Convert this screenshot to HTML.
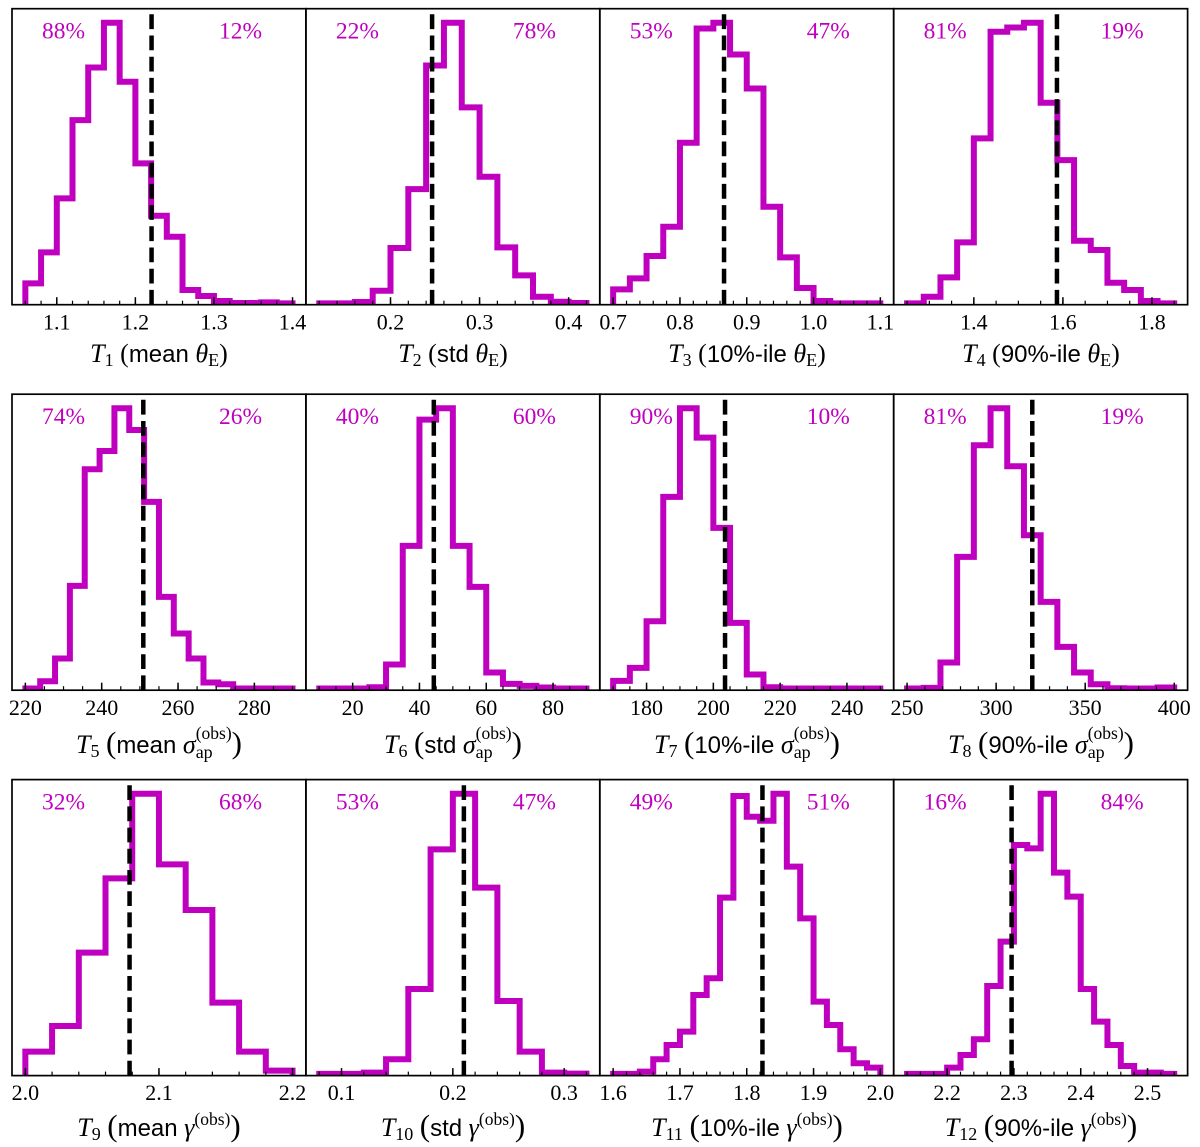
<!DOCTYPE html>
<html lang="en">
<head>
<meta charset="utf-8">
<title>Posterior predictive test statistics T1 to T12</title>
<style>
  html, body { margin: 0; padding: 0; background: #fff; }
  svg { display: block; }
  text { font-family: "Liberation Serif", serif; fill: #000; white-space: pre; }
  .tick-label { font-size: 22px; text-anchor: middle; }
  .pct { font-size: 23.5px; text-anchor: middle; fill: #bf00bf; }
  .xl { font-size: 26px; text-anchor: middle; }
  .m { font-style: italic; }
  .sub { font-size: 18px; }
  .sup { font-size: 17.5px; }
  .sf { font-family: "Liberation Sans", sans-serif; font-size: 24px; }
  .bp { font-size: 31px; }
</style>
</head>
<body>
<svg id="chart" xmlns="http://www.w3.org/2000/svg" width="1200" height="1147" viewBox="0 0 1200 1147">
  <rect x="0" y="0" width="1200" height="1147" fill="#fff"/>
  <g id="panels"></g>
  <g>
    <text class="xl" x="159" y="362"><tspan class="m">T</tspan><tspan class="sub" dy="4">1</tspan><tspan dy="-4"> (</tspan><tspan class="sf">mean</tspan><tspan> </tspan><tspan class="m">θ</tspan><tspan class="sub" dy="4">E</tspan><tspan dy="-4">)</tspan></text>
    <text class="xl" x="453" y="362"><tspan class="m">T</tspan><tspan class="sub" dy="4">2</tspan><tspan dy="-4"> (</tspan><tspan class="sf">std</tspan><tspan> </tspan><tspan class="m">θ</tspan><tspan class="sub" dy="4">E</tspan><tspan dy="-4">)</tspan></text>
    <text class="xl" x="747" y="362"><tspan class="m">T</tspan><tspan class="sub" dy="4">3</tspan><tspan dy="-4"> (</tspan><tspan class="sf">10%-ile</tspan><tspan> </tspan><tspan class="m">θ</tspan><tspan class="sub" dy="4">E</tspan><tspan dy="-4">)</tspan></text>
    <text class="xl" x="1041" y="362"><tspan class="m">T</tspan><tspan class="sub" dy="4">4</tspan><tspan dy="-4"> (</tspan><tspan class="sf">90%-ile</tspan><tspan> </tspan><tspan class="m">θ</tspan><tspan class="sub" dy="4">E</tspan><tspan dy="-4">)</tspan></text>

    <text class="xl" x="159" y="753"><tspan class="m">T</tspan><tspan class="sub" dy="4">5</tspan><tspan dy="-4"> </tspan><tspan class="bp">(</tspan><tspan class="sf">mean</tspan><tspan> </tspan><tspan class="m">σ</tspan><tspan class="sub" dy="5">ap</tspan><tspan class="sup" dx="-17" dy="-19">(obs)</tspan><tspan class="bp" dy="14">)</tspan></text>
    <text class="xl" x="453" y="753"><tspan class="m">T</tspan><tspan class="sub" dy="4">6</tspan><tspan dy="-4"> </tspan><tspan class="bp">(</tspan><tspan class="sf">std</tspan><tspan> </tspan><tspan class="m">σ</tspan><tspan class="sub" dy="5">ap</tspan><tspan class="sup" dx="-17" dy="-19">(obs)</tspan><tspan class="bp" dy="14">)</tspan></text>
    <text class="xl" x="747" y="753"><tspan class="m">T</tspan><tspan class="sub" dy="4">7</tspan><tspan dy="-4"> </tspan><tspan class="bp">(</tspan><tspan class="sf">10%-ile</tspan><tspan> </tspan><tspan class="m">σ</tspan><tspan class="sub" dy="5">ap</tspan><tspan class="sup" dx="-17" dy="-19">(obs)</tspan><tspan class="bp" dy="14">)</tspan></text>
    <text class="xl" x="1041" y="753"><tspan class="m">T</tspan><tspan class="sub" dy="4">8</tspan><tspan dy="-4"> </tspan><tspan class="bp">(</tspan><tspan class="sf">90%-ile</tspan><tspan> </tspan><tspan class="m">σ</tspan><tspan class="sub" dy="5">ap</tspan><tspan class="sup" dx="-17" dy="-19">(obs)</tspan><tspan class="bp" dy="14">)</tspan></text>

    <text class="xl" x="159" y="1136"><tspan class="m">T</tspan><tspan class="sub" dy="4">9</tspan><tspan dy="-4"> </tspan><tspan class="bp">(</tspan><tspan class="sf">mean</tspan><tspan> </tspan><tspan class="m">γ</tspan><tspan class="sup" dy="-11">(obs)</tspan><tspan class="bp" dy="11">)</tspan></text>
    <text class="xl" x="453" y="1136"><tspan class="m">T</tspan><tspan class="sub" dy="4">10</tspan><tspan dy="-4"> </tspan><tspan class="bp">(</tspan><tspan class="sf">std</tspan><tspan> </tspan><tspan class="m">γ</tspan><tspan class="sup" dy="-11">(obs)</tspan><tspan class="bp" dy="11">)</tspan></text>
    <text class="xl" x="747" y="1136"><tspan class="m">T</tspan><tspan class="sub" dy="4">11</tspan><tspan dy="-4"> </tspan><tspan class="bp">(</tspan><tspan class="sf">10%-ile</tspan><tspan> </tspan><tspan class="m">γ</tspan><tspan class="sup" dy="-11">(obs)</tspan><tspan class="bp" dy="11">)</tspan></text>
    <text class="xl" x="1041" y="1136"><tspan class="m">T</tspan><tspan class="sub" dy="4">12</tspan><tspan dy="-4"> </tspan><tspan class="bp">(</tspan><tspan class="sf">90%-ile</tspan><tspan> </tspan><tspan class="m">γ</tspan><tspan class="sup" dy="-11">(obs)</tspan><tspan class="bp" dy="11">)</tspan></text>
  </g>
</svg>
<script>
// ---- chart data ----
const histStart = [1.06, 0.12, 0.7, 1.25, 220, 10, 170, 250, 2.0, 0.08, 1.6, 2.14];
const histStop = [1.4, 0.42, 1.1, 1.85, 290, 90, 250, 400, 2.2, 0.32, 2.0, 2.54];
const countsT1 = [64, 157, 319, 554, 712, 846, 669, 424, 267, 204, 44, 26, 11, 5, 5, 7, 4];
const countsT2 = [4, 4, 8, 42, 170, 347, 718, 846, 592, 384, 172, 88, 24, 9, 5];
const countsT3 = [46, 79, 146, 234, 486, 829, 846, 751, 649, 294, 142, 50, 11, 4, 4, 4];
const countsT4 = [4, 24, 82, 187, 499, 819, 832, 846, 606, 434, 192, 164, 66, 44, 11, 4];
const countsT5 = [5, 27, 95, 313, 663, 718, 846, 781, 565, 280, 170, 95, 23, 18, 5, 5, 5, 5];
const countsT6 = [5, 5, 5, 9, 77, 433, 812, 846, 433, 310, 53, 19, 13, 8, 5, 5];
const countsT7 = [28, 67, 207, 580, 846, 758, 487, 202, 47, 9, 5, 5, 5, 5, 5, 5];
const countsT8 = [5, 7, 83, 400, 735, 846, 672, 465, 265, 130, 53, 18, 6, 5, 5, 8];
const countsT9 = [72, 149, 369, 592, 846, 634, 497, 219, 72, 15];
const countsT10 = [5, 5, 9, 49, 260, 679, 846, 564, 224, 72, 9, 6];
const countsT11 = [5, 5, 12, 49, 92, 132, 242, 292, 534, 839, 777, 765, 846, 627, 472, 222, 152, 79, 37, 24];
const countsT12 = [5, 5, 5, 24, 62, 109, 269, 402, 692, 682, 846, 609, 537, 260, 162, 92, 29, 9, 9, 5];
const observedValue = [1.2206, 0.2467, 0.866, 1.5866, 250.9, 44.3, 203.5, 320.3, 2.078, 0.2099, 1.8235, 2.2965];
const percentBelow = ["88%", "22%", "53%", "81%", "74%", "40%", "90%", "81%", "32%", "53%", "49%", "16%"];
const percentAbove = ["12%", "78%", "47%", "19%", "26%", "60%", "10%", "19%", "68%", "47%", "51%", "84%"];
const majorTicksT1 = ["1.1", "1.2", "1.3", "1.4"];
const majorTicksT2 = ["0.2", "0.3", "0.4"];
const majorTicksT3 = ["0.7", "0.8", "0.9", "1.0", "1.1"];
const majorTicksT4 = ["1.4", "1.6", "1.8"];
const majorTicksT5 = ["220", "240", "260", "280"];
const majorTicksT6 = ["20", "40", "60", "80"];
const majorTicksT7 = ["180", "200", "220", "240"];
const majorTicksT8 = ["250", "300", "350", "400"];
const majorTicksT9 = ["2.0", "2.1", "2.2"];
const majorTicksT10 = ["0.1", "0.2", "0.3"];
const majorTicksT11 = ["1.6", "1.7", "1.8", "1.9", "2.0"];
const majorTicksT12 = ["2.2", "2.3", "2.4", "2.5"];
const minorStep = [0.02, 0.02, 0.02, 0.05, 5, 5, 5, 10, 0.02, 0.02, 0.02, 0.02];

const allCounts = [countsT1, countsT2, countsT3, countsT4, countsT5, countsT6, countsT7, countsT8, countsT9, countsT10, countsT11, countsT12];
const allTicks = [majorTicksT1, majorTicksT2, majorTicksT3, majorTicksT4, majorTicksT5, majorTicksT6, majorTicksT7, majorTicksT8, majorTicksT9, majorTicksT10, majorTicksT11, majorTicksT12];

// ---- layout ----
const NS = "http://www.w3.org/2000/svg";
const panelWidth = 293.9;
const panelHeight = 296;
const colLefts = [12, 305.9, 599.8, 893.7];
const rowTops = [8.7, 394.2, 779.6];
const tickLabelOffset = 24.6;
const magenta = "#bf00bf";
const root = document.getElementById("panels");

function make(parent, tag, attrs) {
  const el = document.createElementNS(NS, tag);
  for (const k in attrs) el.setAttribute(k, attrs[k]);
  parent.appendChild(el);
  return el;
}

allCounts.forEach(function (counts, i) {
  const id = "t" + (i + 1);
  const left = colLefts[i % 4];
  const top = rowTops[Math.floor(i / 4)];
  const bottom = top + panelHeight;
  const a = histStart[i];
  const b = histStop[i];
  const margin = 0.05 * (b - a);
  const xMin = a - margin;
  const xMax = b + margin;
  const yMax = Math.max.apply(null, counts) * 1.05;
  const xScale = function (v) { return left + (v - xMin) / (xMax - xMin) * panelWidth; };
  const yScale = function (v) { return bottom - v / yMax * panelHeight; };

  const g = make(root, "g", {});
  
  

  const clip = make(g, "clipPath", { id: "clip-" + id });
  
  
  make(clip, "rect", { x: left, y: top, width: panelWidth, height: panelHeight });

  // step histogram outline
  const binWidth = (b - a) / counts.length;
  let d = "M" + xScale(a).toFixed(2) + " " + yScale(0).toFixed(2);
  counts.forEach(function (c, k) {
    const yy = yScale(c).toFixed(2);
    d += "L" + xScale(a + k * binWidth).toFixed(2) + " " + yy;
    d += "L" + xScale(a + (k + 1) * binWidth).toFixed(2) + " " + yy;
  });
  d += "L" + xScale(b).toFixed(2) + " " + yScale(0).toFixed(2);
  const hist = make(g, "path", { d: d, fill: "none", stroke: magenta, "stroke-width": 6, "stroke-linejoin": "miter", "stroke-miterlimit": 10, "clip-path": "url(#clip-" + id + ")" });
  
  

  // observed value line
  const xo = xScale(observedValue[i]).toFixed(2);
  const obs = make(g, "line", { x1: xo, x2: xo, y1: bottom, y2: top, stroke: "#000", "stroke-width": 4.5, "stroke-dasharray": "14.8 6.4", "clip-path": "url(#clip-" + id + ")" });
  
  

  // minor ticks
  const step = minorStep[i];
  const firstMinor = Math.ceil(xMin / step - 1e-9);
  const lastMinor = Math.floor(xMax / step + 1e-9);
  for (let n = firstMinor; n <= lastMinor; n++) {
    const xm = xScale(n * step).toFixed(2);
    const mt = make(g, "line", { x1: xm, x2: xm, y1: bottom, y2: bottom - 4, stroke: "#000", "stroke-width": 1.2 });
    
    
  }

  // major ticks and labels
  allTicks[i].forEach(function (label) {
    const xt = xScale(parseFloat(label)).toFixed(2);
    const tk = make(g, "line", { x1: xt, x2: xt, y1: bottom, y2: bottom - 7.5, stroke: "#000", "stroke-width": 1.5 });
    
    
    const tl = make(g, "text", { class: "tick-label", x: xt, y: bottom + tickLabelOffset });
    
    
    tl.textContent = label;
  });

  // percent annotations
  const pb = make(g, "text", { class: "pct", x: left + 51.5, y: top + 29.8 });
  
  
  pb.textContent = percentBelow[i];
  const pa = make(g, "text", { class: "pct", x: left + 228.5, y: top + 29.8 });
  
  
  pa.textContent = percentAbove[i];

  // frame
  const frame = make(g, "rect", { x: left, y: top, width: panelWidth, height: panelHeight, fill: "none", stroke: "#000", "stroke-width": 1.7 });
  
  
});
</script>
</body>
</html>
